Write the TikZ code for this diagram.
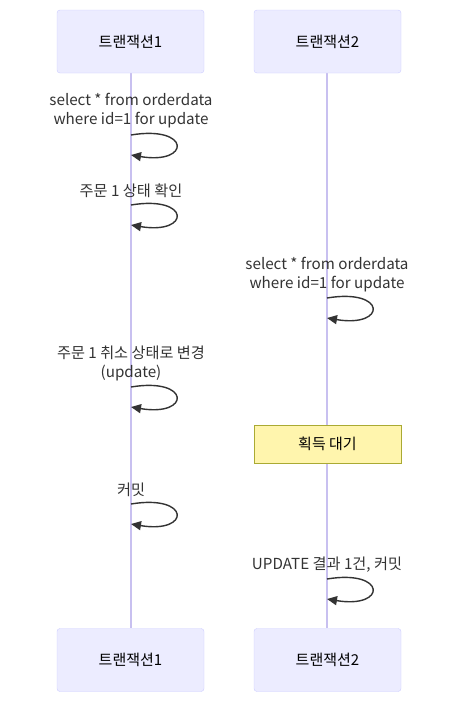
\documentclass[tikz,border=0pt]{standalone}
\usepackage{fontspec}
\setmainfont{Noto Sans CJK KR}
\usetikzlibrary{arrows.meta}
\definecolor{actfill}{HTML}{ECECFF}
\definecolor{actline}{HTML}{CCCCFF}
\definecolor{lifel}{HTML}{C8C0F0}
\definecolor{notefill}{HTML}{FFF5AD}
\definecolor{noteline}{HTML}{AAAA33}
\definecolor{txt}{HTML}{333333}
\tikzset{
  actor/.style={draw=actline, fill=actfill, rounded corners=3pt, minimum width=147pt, minimum height=63pt, inner sep=0pt, font=\fontsize{15}{17}\selectfont, text=black},
  notebox/.style={draw=noteline, fill=notefill, minimum width=147pt, minimum height=38pt, inner sep=0pt, font=\fontsize{15}{17}\selectfont, text=black},
  msg/.style={font=\fontsize{15.2}{19}\selectfont, text=txt, align=center, inner sep=0pt},
  lifeline/.style={draw=lifel, line width=1.3pt},
  loopa/.style={draw=txt, line width=1.4pt, -{Triangle[length=10pt,width=9pt]}}
}
\begin{document}
\begin{tikzpicture}[x=1pt,y=-1pt]
\useasboundingbox (0,0) rectangle (467,715);
% lifelines
\coordinate (l1t) at (131,73);
\coordinate (l1b) at (131,628);
\coordinate (l2t) at (327,73);
\coordinate (l2b) at (327,628);
\draw[lifeline] (l1t) -- (l1b);
\draw[lifeline] (l2t) -- (l2b);
% actors
\node[actor] (a1) at (130.5,41.5) {트랜잭션1};
\node[actor] (a2) at (327.5,41.5) {트랜잭션2};
\node[actor] (b1) at (130.5,660) {트랜잭션1};
\node[actor] (b2) at (327.5,660) {트랜잭션2};
% messages
\node[msg] (m1) at (131,111) {select * from orderdata\\where id=1 for update};
\coordinate (s1) at (131,135); \coordinate (e1) at (131,155);
\draw[loopa] (s1) .. controls (191,125) and (191,165) .. (e1);

\node[msg] (m2) at (131,191) {주문 1 상태 확인};
\coordinate (s2) at (131,205); \coordinate (e2) at (131,225);
\draw[loopa] (s2) .. controls (191,195) and (191,235) .. (e2);

\node[msg] (m3) at (327,275) {select * from orderdata\\where id=1 for update};
\coordinate (s3) at (327,298); \coordinate (e3) at (327,318);
\draw[loopa] (s3) .. controls (387,288) and (387,328) .. (e3);

\node[msg] (m4) at (131,363.5) {주문 1 취소 상태로 변경\\(update)};
\coordinate (s4) at (131,387); \coordinate (e4) at (131,407);
\draw[loopa] (s4) .. controls (191,377) and (191,417) .. (e4);

\node[notebox] (n1) at (327.5,444) {획득 대기};

\node[msg] (m5) at (131,490) {커밋};
\coordinate (s5) at (131,504); \coordinate (e5) at (131,524);
\draw[loopa] (s5) .. controls (191,494) and (191,534) .. (e5);

\node[msg] (m6) at (327,565) {UPDATE 결과 1건, 커밋};
\coordinate (s6) at (327,579); \coordinate (e6) at (327,599);
\draw[loopa] (s6) .. controls (387,569) and (387,609) .. (e6);
\end{tikzpicture}
\end{document}
